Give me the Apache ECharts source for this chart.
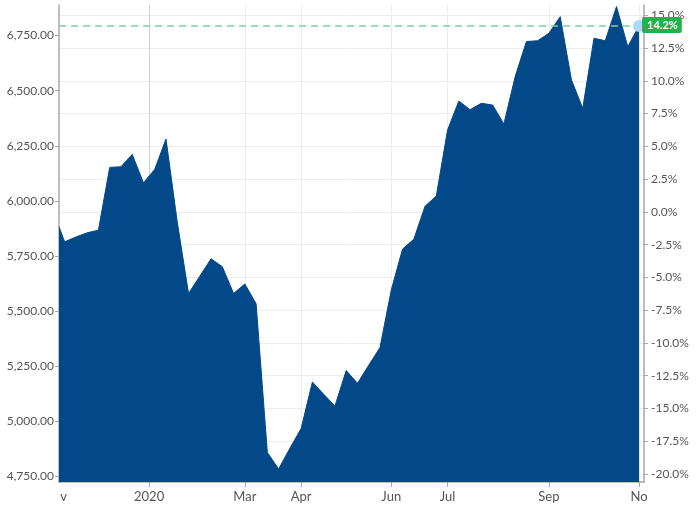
<!DOCTYPE html>
<html>
<head>
<meta charset="utf-8">
<script src="https://cdn.jsdelivr.net/npm/echarts@6/dist/echarts.min.js"></script>
<style>
html,body{margin:0;padding:0;background:#fff;}
#chart{width:697px;height:506px;}
</style>
</head>
<body>
<div id="chart"></div>
<script>
// week index (position on the weekly ordinal axis)
const weekPos = [-0.5, 0, 1, 2, 3, 4, 5, 6, 7, 8, 9, 10, 11, 12, 13, 14, 15, 16, 17, 18, 19, 20,
  21, 22, 23, 24, 25, 26, 27, 28, 29, 30, 31, 32, 33, 34, 35, 36, 37, 38, 39, 40, 41, 42, 43,
  44, 45, 46, 47, 48, 49, 50, 51];
const values = [5882, 5814, 5836, 5855, 5867, 6152, 6155, 6211, 6082, 6143, 6281, 5904, 5580,
  5658, 5737, 5701, 5580, 5623, 5533, 4858, 4783, 4877, 4967, 5178, 5122, 5069, 5230, 5172,
  5254, 5334, 5595, 5781, 5826, 5976, 6022, 6322, 6453, 6414, 6443, 6435, 6349, 6564, 6723,
  6727, 6761, 6836, 6549, 6420, 6738, 6727, 6882, 6700, 6794];
const baseValue = 5950; // value at 0.0%
const xTickPos = [7.5, 16, 21, 29, 34, 43, 51];
const xTickLabels = ['2020', 'Mar', 'Apr', 'Jun', 'Jul', 'Sep', 'No'];
const xEdgeLabelPos = -0.5;
const xEdgeLabel = 'v';
const leftTicks = [4750, 5000, 5250, 5500, 5750, 6000, 6250, 6500, 6750];
const rightTicks = [-20, -17.5, -15, -12.5, -10, -7.5, -5, -2.5, 0, 2.5, 5, 7.5, 10, 12.5, 15];
const leftMin = 4724, leftMax = 6889;

const seriesData = weekPos.map((w, i) => [w, values[i]]);
const lastX = weekPos[weekPos.length - 1];
const lastV = values[values.length - 1];
const lastPct = ((lastV / baseValue - 1) * 100).toFixed(1) + '%';
const pct = v => (v / baseValue - 1) * 100;

const labelMap = {};
xTickPos.forEach((p, i) => labelMap[p] = xTickLabels[i]);
labelMap[xEdgeLabelPos] = '{l|' + xEdgeLabel + '}';

const fontFamily = 'Lato, "Open Sans", sans-serif';
const txt = '#555';
const axisGray = '#a9a9a9';

const chart = echarts.init(document.getElementById('chart'), null, {renderer: 'canvas'});
chart.setOption({
  animation: false,
  backgroundColor: '#fff',
  grid: {left: 59, right: 53, top: 5, bottom: 24, containLabel: false, outerBoundsMode: 'none'},
  xAxis: {
    type: 'value',
    min: -0.5,
    max: 51.44,
    axisLine: {show: true, onZero: false, lineStyle: {color: axisGray, width: 1.5}},
    axisTick: {show: true, customValues: xTickPos, length: 5, lineStyle: {color: axisGray}},
    axisLabel: {
      customValues: [xEdgeLabelPos].concat(xTickPos),
      formatter: v => labelMap[v] || '',
      color: txt, fontSize: 13, fontFamily, margin: 8,
      rich: {l: {color: txt, fontSize: 13, fontFamily, padding: [0, 0, 0, 9]}}
    },
    splitLine: {show: true, lineStyle: {color: ['#cfcfcf', '#ececec', '#ececec', '#ececec', '#ececec', '#ececec', '#ececec'], width: 1}}
  },
  yAxis: [{
    type: 'value',
    position: 'left',
    min: leftMin, max: leftMax,
    axisLine: {show: true, onZero: false, lineStyle: {color: axisGray, width: 1.5}},
    axisTick: {show: true, customValues: leftTicks, length: 4, lineStyle: {color: axisGray}},
    axisLabel: {
      customValues: leftTicks,
      formatter: v => v.toLocaleString('en-US', {minimumFractionDigits: 2, maximumFractionDigits: 2}),
      color: txt, fontSize: 12, fontFamily, margin: 5
    },
    splitLine: {show: false}
  }, {
    type: 'value',
    position: 'right',
    min: pct(leftMin), max: pct(leftMax),
    axisLine: {show: true, onZero: false, lineStyle: {color: axisGray, width: 1.5}},
    axisTick: {show: true, customValues: rightTicks, length: 4, lineStyle: {color: axisGray}},
    axisLabel: {
      customValues: rightTicks,
      formatter: v => v.toFixed(1) + '%',
      color: txt, fontSize: 12, fontFamily, margin: 7
    },
    splitLine: {show: true, lineStyle: {color: '#ececec', width: 1}}
  }],
  series: [{
    type: 'line',
    yAxisIndex: 0,
    data: seriesData,
    symbol: 'none',
    lineStyle: {color: '#03498a', width: 1},
    areaStyle: {color: '#03498a', opacity: 1, origin: 'start'},
    z: 3,
    markLine: {
      silent: true,
      symbol: 'none',
      label: {show: false},
      lineStyle: {color: '#7dcfa4', type: [7, 5], width: 1.5},
      data: [[{coord: [weekPos[0], lastV]}, {coord: [lastX, lastV]}]]
    },
    markPoint: {
      silent: true,
      symbol: 'circle',
      symbolSize: 12,
      itemStyle: {color: '#a5dcf6'},
      label: {
        show: true,
        formatter: lastPct,
        position: [9, -3],
        color: '#fff',
        fontWeight: 'bold',
        fontSize: 11,
        fontFamily,
        backgroundColor: '#23b24c',
        borderRadius: 2,
        padding: [3, 4, 2, 5]
      },
      data: [{coord: [lastX, lastV]}]
    }
  }]
});
</script>
</body>
</html>
